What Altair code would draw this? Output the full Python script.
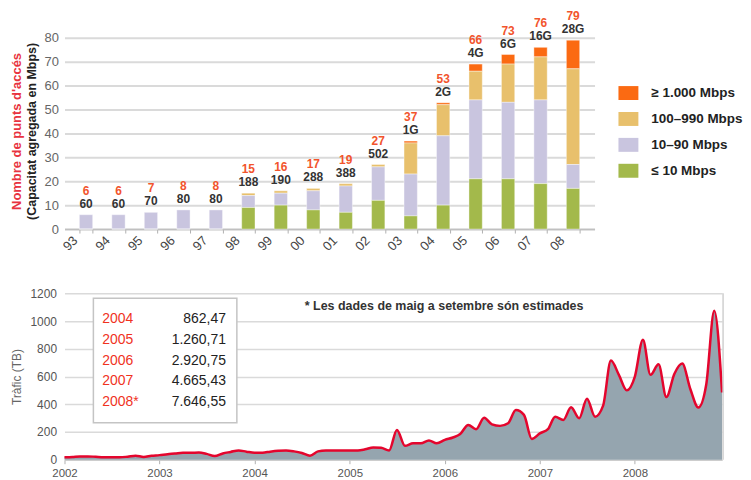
import altair as alt
import pandas as pd

# ---------------- top chart data ----------------
years = ["93", "94", "95", "96", "97", "98", "99", "00", "01", "02", "03", "04", "05", "06", "07", "08"]
le10 = [0, 0, 0, 0, 0, 9, 10, 8, 7, 12, 5.5, 10, 21, 21, 19, 17]
mid10_90 = [6, 6, 7, 8, 8, 5, 5, 8, 11, 14, 17.5, 29, 33, 32, 35, 10]
mid100_990 = [0, 0, 0, 0, 0, 1, 1, 1, 1, 1, 13, 13, 12, 16, 18, 40]
ge1000 = [0, 0, 0, 0, 0, 0, 0, 0, 0, 0, 0.8, 0.8, 3, 4, 4, 12]
counts = [6, 6, 7, 8, 8, 15, 16, 17, 19, 27, 37, 53, 66, 73, 76, 79]
capacity = ["60", "60", "70", "80", "80", "188", "190", "288", "388", "502", "1G", "2G", "4G", "6G", "16G", "28G"]

cats = ["≥ 1.000 Mbps", "100–990 Mbps", "10–90 Mbps", "≤ 10 Mbps"]
cat_colors = ["#fb6a12", "#e8c06c", "#c9c5df", "#a3b94b"]

# ---------------- bottom chart data ----------------
traffic = [
    17, 20, 24, 24, 21, 18, 17, 17, 22, 29, 20, 28,          # 2002
    33, 40, 44, 50, 50, 52, 42, 26, 45, 56, 67, 58,          # 2003
    50, 51, 58, 64, 67, 60, 48, 29, 60, 67, 67, 67,          # 2004
    67, 67, 75, 88, 86, 67, 215, 100, 119, 119, 139, 119,    # 2005
    143, 160, 185, 251, 220, 303, 255, 244, 263, 358, 323, 150,  # 2006
    190, 220, 310, 287, 378, 299, 440, 310, 390, 715, 610, 500,  # 2007
    600, 865, 612, 688, 452, 620, 693, 510, 376, 540, 1075, 485,  # 2008
]
table_years = ["2004", "2005", "2006", "2007", "2008*"]
table_values = ["862,47", "1.260,71", "2.920,75", "4.665,43", "7.646,55"]

FONT = "Liberation Sans"

# ---------------- build top chart ----------------
rows = []
series = [ge1000, mid100_990, mid10_90, le10]
order_idx = [3, 2, 1, 0]
for yi, yr in enumerate(years):
    for ci, cat in enumerate(cats):
        rows.append({"year": yr, "cat": cat, "value": series[ci][yi], "ord": order_idx[ci]})
bars_df = pd.DataFrame(rows)

tot_df = pd.DataFrame({
    "year": years,
    "total": [a + b + c + d for a, b, c, d in zip(le10, mid10_90, mid100_990, ge1000)],
    "count": [str(c) for c in counts],
    "cap": capacity,
})

W_TOP = 532
H_TOP = 192

x_axis_top = alt.Axis(title=None, labelAngle=-45, labelAlign="right", labelBaseline="middle",
                      labelOffset=-11, labelPadding=5, tickBand="extent", ticks=True, tickSize=4,
                      tickColor="#b0b0b0", domainColor="#c0c0c0", domainWidth=1.5, labelFont=FONT,
                      labelFontSize=13, labelColor="#444444", grid=False)
x_scale_top = alt.Scale(paddingInner=0.59, paddingOuter=0.458)
y_axis_top = alt.Axis(values=list(range(0, 81, 10)), title=None, grid=True, gridColor="#dadada",
                      gridWidth=2, domain=False, ticks=False, labelPadding=6, labelFont=FONT,
                      labelFontSize=13, labelColor="#666666", labelOverlap=False)
y_scale_top = alt.Scale(domain=[0, 80], nice=False)

bars = alt.Chart(bars_df).mark_bar(stroke="white", strokeWidth=0.4).encode(
    x=alt.X("year:N", sort=years, scale=x_scale_top, axis=x_axis_top),
    y=alt.Y("value:Q", stack="zero", scale=y_scale_top, axis=y_axis_top),
    color=alt.Color("cat:N", scale=alt.Scale(domain=cats, range=cat_colors),
                    legend=alt.Legend(title=None, orient="none", legendX=556, legendY=45.5,
                                      symbolType="M-1,-0.7H1V0.7H-1Z", symbolSize=400,
                                      symbolStrokeWidth=0, symbolOpacity=1, labelFont=FONT,
                                      labelFontSize=13.5, labelFontWeight="bold",
                                      labelColor="#222222", rowPadding=9, labelOffset=13)),
    order=alt.Order("ord:Q", sort="ascending"),
)

cap_text = alt.Chart(tot_df).mark_text(dy=-11, fontSize=12, fontWeight="bold", color="#333333",
                                       font=FONT).encode(
    x=alt.X("year:N", sort=years, scale=x_scale_top, axis=x_axis_top),
    y=alt.Y("total:Q", scale=y_scale_top, axis=y_axis_top), text="cap:N")
cnt_text = alt.Chart(tot_df).mark_text(dy=-24, fontSize=12, fontWeight="bold", color="#f2542c",
                                       font=FONT).encode(
    x=alt.X("year:N", sort=years, scale=x_scale_top, axis=x_axis_top),
    y=alt.Y("total:Q", scale=y_scale_top, axis=y_axis_top), text="count:N")

title_df = pd.DataFrame({"t1": ["Nombre de punts d'accés"], "t2": ["(Capacitat agregada en Mbps)"]})
title1 = alt.Chart(title_df).mark_text(angle=270, fontSize=13, fontWeight="bold", color="#e83340",
                                       font=FONT, baseline="middle", align="center").encode(
    x=alt.value(-47.5), y=alt.value(94), text="t1:N")
title2 = alt.Chart(title_df).mark_text(angle=270, fontSize=12.5, fontWeight="bold", color="#222222",
                                       font=FONT, baseline="middle", align="center").encode(
    x=alt.value(-33), y=alt.value(94), text="t2:N")

top = alt.layer(bars, cap_text, cnt_text, title1, title2).properties(width=W_TOP, height=H_TOP)

# ---------------- build bottom chart ----------------
W_BOT = 660
H_BOT = 167
traffic_df = pd.DataFrame({
    "date": pd.date_range("2002-01-01", periods=len(traffic), freq="MS").strftime("%Y-%m-%d"),
    "tb": traffic,
})

x_bot = alt.X(
    "date:T",
    scale=alt.Scale(type="utc", domain=[alt.DateTime(year=2002, month=1, date=1, utc=True),
                                        alt.DateTime(year=2008, month=12, date=1, utc=True)]),
    axis=alt.Axis(title=None, format="%Y", labelFlush=False,
                  values=[alt.DateTime(year=y, month=1, date=1, utc=True) for y in range(2002, 2009)],
                  grid=False, ticks=True, tickSize=4, tickColor="#b0b0b0", domainColor="#c8c8c8",
                  labelPadding=4, labelFont=FONT, labelFontSize=11.5, labelColor="#555555"),
)
y_bot = alt.Y(
    "tb:Q", scale=alt.Scale(domain=[0, 1200], nice=False),
    axis=alt.Axis(values=list(range(0, 1201, 200)), format="d", title="Tràfic (TB)", titleFont=FONT,
                  titleFontSize=12, titleFontWeight="normal", titleColor="#666666", titlePadding=6,
                  grid=True, gridColor="#dadada", gridWidth=1.5, domain=False, ticks=False,
                  labelPadding=8, labelFont=FONT, labelFontSize=12, labelColor="#555555"),
)

area = alt.Chart(traffic_df).mark_area(color="#95a5af", interpolate="monotone", opacity=1).encode(
    x=x_bot, y=y_bot)
line = alt.Chart(traffic_df).mark_line(color="#e4052d", strokeWidth=2.5, interpolate="monotone").encode(
    x=x_bot, y=y_bot)
series_layer = alt.layer(area, line)

border_df = pd.DataFrame({"k": [0]})
right_border = alt.Chart(border_df).mark_rule(color="#d0d0d0", strokeWidth=1.5).encode(
    x=alt.value(W_BOT + 1), y=alt.value(0), y2=alt.value(H_BOT))

box = alt.Chart(border_df).mark_rect(fill="white", stroke="#c4c4c4", strokeWidth=1.5).encode(
    x=alt.value(29), x2=alt.value(173), y=alt.value(5), y2=alt.value(130))

note_df = pd.DataFrame({"t": ["* Les dades de maig a setembre són estimades"]})
note = alt.Chart(note_df).mark_text(fontSize=12.5, fontWeight="bold", color="#333333", font=FONT,
                                    align="center", baseline="middle").encode(
    x=alt.value(381), y=alt.value(12.5), text="t:N")

tbl_df = pd.DataFrame({"row": list(range(len(table_years))), "yr": table_years, "val": table_values})
row_scale = alt.Scale(domain=[0, 4], range=[25.5, 109.5])
tbl_years = alt.Chart(tbl_df).mark_text(fontSize=14, color="#f0321e", font=FONT, align="left",
                                        baseline="middle").encode(
    x=alt.value(38), y=alt.Y("row:Q", scale=row_scale, axis=None), text="yr:N")
tbl_vals = alt.Chart(tbl_df).mark_text(fontSize=14, color="#222222", font=FONT, align="right",
                                       baseline="middle").encode(
    x=alt.value(162), y=alt.Y("row:Q", scale=row_scale, axis=None), text="val:N")

bottom = alt.layer(series_layer, right_border, box, note, tbl_years, tbl_vals).resolve_scale(
    y="independent").properties(width=W_BOT, height=H_BOT)

chart = alt.vconcat(top, bottom, spacing=33.5).configure(
    font=FONT, padding={"left": 2.7, "top": 1, "right": 0, "bottom": 0}
).configure_view(stroke=None)

chart.save("out.html", embed_options={"renderer": "svg", "actions": False})
